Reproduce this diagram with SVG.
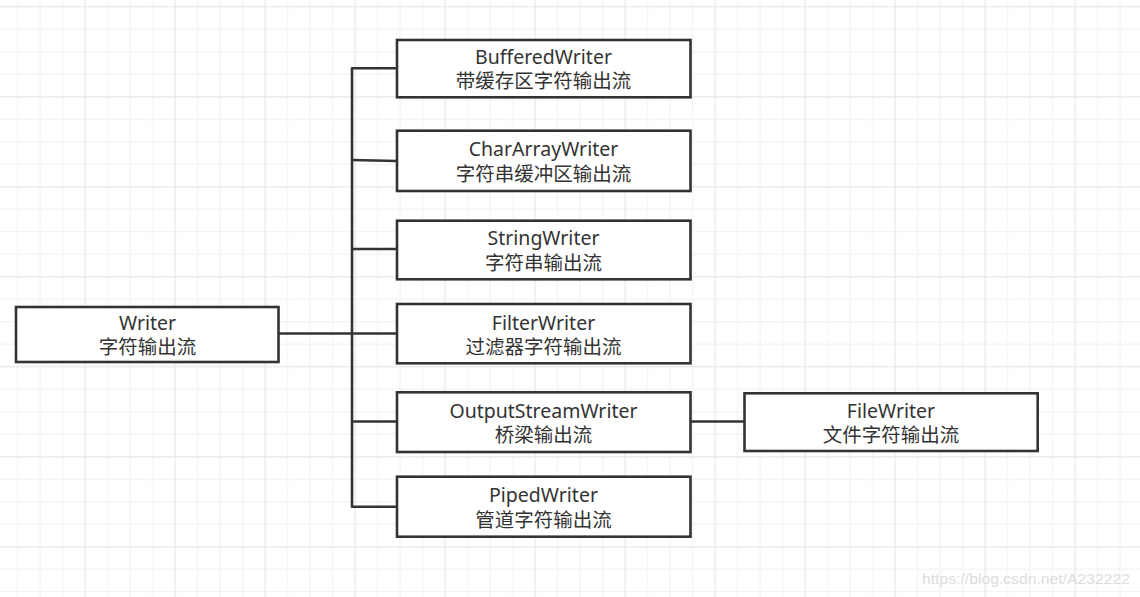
<svg xmlns="http://www.w3.org/2000/svg" width="1140" height="597" viewBox="0 0 1140 597">
<style>
.box{fill:#fff;stroke:#333;stroke-width:2.6}
.conn{fill:none;stroke:#333;stroke-width:2.6;stroke-linejoin:round}
.t1{font-family:"Noto Sans","Noto Sans CJK SC",sans-serif;font-size:19.5px;fill:#333;text-anchor:middle}
.t2{font-family:"Noto Sans CJK SC","Noto Sans",sans-serif;font-size:19.5px;fill:#333;text-anchor:middle}
.wm{font-family:"Liberation Sans",sans-serif;font-size:15.5px;fill:#dcdcdc}
</style>
<defs>
<pattern id="grid" patternUnits="userSpaceOnUse" x="-5.5" y="6.2" width="90" height="90">
<rect x="0" y="0" width="90" height="90" fill="#fff"/>
<g fill="#f1f1f1">
<rect x="22.5" y="0" width="1.1" height="90"/>
<rect x="45" y="0" width="1.1" height="90"/>
<rect x="67.5" y="0" width="1.1" height="90"/>
<rect x="0" y="22.5" width="90" height="1.1"/>
<rect x="0" y="45" width="90" height="1.1"/>
<rect x="0" y="67.5" width="90" height="1.1"/>
</g>
<g fill="#e6e6e6">
<rect x="0" y="0" width="1.2" height="90"/>
<rect x="0" y="0" width="90" height="1.2"/>
</g>
</pattern>
</defs>
<rect x="0" y="0" width="1140" height="597" fill="url(#grid)"/>

<g id="connectors">
<path class="conn" d="M279 333.5 H397"/>
<path class="conn" d="M397 68.3 H352 V506.8 H397"/>
<path class="conn" d="M352 160 L397 161"/>
<path class="conn" d="M352 249 H397"/>
<path class="conn" d="M352 421.5 H397"/>
<path class="conn" d="M690.5 421.5 H744.5"/>
</g>

<g id="writer">
<rect class="box" x="16" y="307" width="262.5" height="55"/>
<text class="t1" x="147.5" y="329.5">Writer</text>
<text class="t2" x="147.5" y="354">字符输出流</text>
</g>
<g id="bufferedwriter">
<rect class="box" x="397" y="40" width="293.5" height="57.3"/>
<text class="t1" x="543.5" y="63.5">BufferedWriter</text>
<text class="t2" x="543.5" y="88">带缓存区字符输出流</text>
</g>
<g id="chararraywriter">
<rect class="box" x="397" y="130.7" width="293.5" height="60.3"/>
<text class="t1" x="543.5" y="156">CharArrayWriter</text>
<text class="t2" x="543.5" y="180.5">字符串缓冲区输出流</text>
</g>
<g id="stringwriter">
<rect class="box" x="397" y="220.7" width="293.5" height="58.6"/>
<text class="t1" x="543.5" y="245">StringWriter</text>
<text class="t2" x="543.5" y="269.5">字符串输出流</text>
</g>
<g id="filterwriter">
<rect class="box" x="397" y="304" width="293.5" height="59.3"/>
<text class="t1" x="543.5" y="329.5">FilterWriter</text>
<text class="t2" x="543.5" y="354">过滤器字符输出流</text>
</g>
<g id="outputstreamwriter">
<rect class="box" x="397" y="392.3" width="293.5" height="59.7"/>
<text class="t1" x="543.5" y="417.5">OutputStreamWriter</text>
<text class="t2" x="543.5" y="442">桥梁输出流</text>
</g>
<g id="pipedwriter">
<rect class="box" x="397" y="476.7" width="293.5" height="60"/>
<text class="t1" x="543.5" y="502">PipedWriter</text>
<text class="t2" x="543.5" y="526.5">管道字符输出流</text>
</g>
<g id="filewriter">
<rect class="box" x="744.5" y="393.3" width="293.2" height="57.7"/>
<text class="t1" x="891" y="417.5">FileWriter</text>
<text class="t2" x="891" y="442">文件字符输出流</text>
</g>
<text class="wm" x="922" y="584" textLength="208" lengthAdjust="spacingAndGlyphs">https://blog.csdn.net/A232222</text>
</svg>
